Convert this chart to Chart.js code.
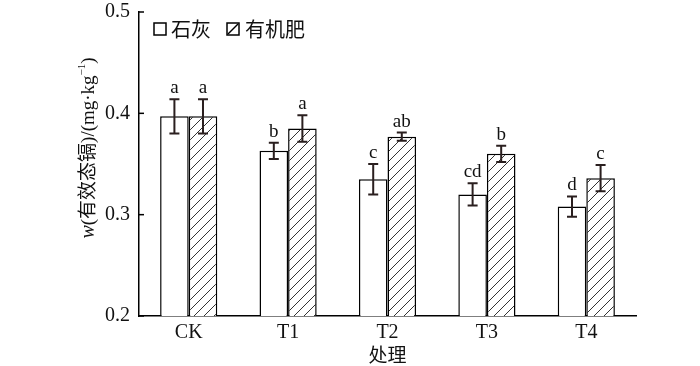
<!DOCTYPE html>
<html>
<head>
<meta charset="utf-8">
<script src="https://cdn.jsdelivr.net/npm/chart.js@4.4.1/dist/chart.umd.min.js"></script>
<style>
  html, body { margin: 0; padding: 0; background: #fff; }
  #wrap { width: 700px; height: 366px; }
</style>
</head>
<body>
<div id="wrap"><canvas id="cdChart" width="700" height="366"></canvas></div>
<script>
// 数据
const categories = ['CK', 'T1', 'T2', 'T3', 'T4'];
const limeValues = [0.397, 0.363, 0.335, 0.320, 0.308];
const limeErrors = [0.017, 0.008, 0.015, 0.011, 0.010];
const limeLetters = ['a', 'b', 'c', 'cd', 'd'];
const manureValues = [0.397, 0.385, 0.377, 0.360, 0.336];
const manureErrors = [0.017, 0.013, 0.004, 0.008, 0.013];
const manureLetters = ['a', 'a', 'ab', 'b', 'c'];
const seriesNames = ['石灰', '有机肥'];
const yTicks = [0.2, 0.3, 0.4, 0.5];

const SERIF = '"Liberation Serif", "Noto Sans CJK SC", serif';
const CJK = '"Noto Sans CJK SC", "Liberation Serif", sans-serif';

// 斜线填充
function makeHatch() {
    const c = document.createElement('canvas');
    c.width = 10; c.height = 10;
    const g = c.getContext('2d');
    g.fillStyle = '#fff';
    g.fillRect(0, 0, 10, 10);
    g.strokeStyle = '#333';
    g.lineWidth = 1;
    g.beginPath();
    g.moveTo(-1, 11); g.lineTo(11, -1);
    g.moveTo(-1, 1); g.lineTo(1, -1);
    g.moveTo(9, 11); g.lineTo(11, 9);
    g.stroke();
    return g.createPattern(c, 'repeat');
}

const errors = [limeErrors, manureErrors];
const letters = [limeLetters, manureLetters];

const extrasPlugin = {
    id: 'extras',
    afterDatasetsDraw(chart) {
        const ctx = chart.ctx;
        const yScale = chart.scales.y;
        const area = chart.chartArea;
        ctx.save();

        // 误差线和字母
        chart.data.datasets.forEach((ds, i) => {
            const meta = chart.getDatasetMeta(i);
            meta.data.forEach((bar, j) => {
                const v = ds.data[j];
                const e = errors[i][j];
                const yt = yScale.getPixelForValue(v + e);
                const yb = yScale.getPixelForValue(v - e);
                ctx.strokeStyle = '#2a1f1f';
                ctx.lineWidth = 2;
                ctx.beginPath();
                ctx.moveTo(bar.x, yt); ctx.lineTo(bar.x, yb);
                ctx.moveTo(bar.x - 5, yt); ctx.lineTo(bar.x + 5, yt);
                ctx.moveTo(bar.x - 5, yb); ctx.lineTo(bar.x + 5, yb);
                ctx.stroke();

                ctx.fillStyle = '#111';
                ctx.font = '19px ' + SERIF;
                ctx.textAlign = 'center';
                ctx.textBaseline = 'alphabetic';
                ctx.fillText(letters[i][j], bar.x, yt - 6);
            });
        });

        // y轴向内刻度
        ctx.strokeStyle = '#000';
        ctx.lineWidth = 1.5;
        yTicks.forEach(t => {
            const y = yScale.getPixelForValue(t);
            ctx.beginPath();
            ctx.moveTo(area.left, y); ctx.lineTo(area.left + 5, y);
            ctx.stroke();
        });

        // 图例
        ctx.lineWidth = 1.5;
        ctx.strokeStyle = '#000';
        ctx.fillStyle = '#fff';
        ctx.fillRect(154, 23, 12, 12);
        ctx.strokeRect(154, 23, 12, 12);
        ctx.strokeRect(227, 23, 12, 12);
        ctx.beginPath();
        ctx.moveTo(228, 34); ctx.lineTo(238, 24);
        ctx.stroke();
        ctx.fillStyle = '#111';
        ctx.font = '20px ' + CJK;
        ctx.textAlign = 'left';
        ctx.textBaseline = 'middle';
        ctx.fillText(seriesNames[0], 171, 29);
        ctx.fillText(seriesNames[1], 245, 29);

        // y轴标题
        ctx.translate(89, 148);
        ctx.rotate(-Math.PI / 2);
        const parts = [
            { t: 'w', f: 'italic 20px ' + SERIF, dy: 0 },
            { t: '(有效态镉)/(mg·kg', f: '19px ' + SERIF, dy: 0 },
            { t: '−1', f: '11px ' + SERIF, dy: -7 },
            { t: ')', f: '19px ' + SERIF, dy: 0 }
        ];
        let total = 0;
        parts.forEach(p => { ctx.font = p.f; p.w = ctx.measureText(p.t).width; total += p.w; });
        let x = -total / 2;
        ctx.textAlign = 'left';
        ctx.textBaseline = 'middle';
        parts.forEach(p => {
            ctx.font = p.f;
            ctx.fillText(p.t, x, p.dy);
            x += p.w;
        });
        ctx.restore();
    }
};

const hatch = makeHatch();

new Chart(document.getElementById('cdChart').getContext('2d'), {
    type: 'bar',
    data: {
        labels: categories,
        datasets: [{
            label: seriesNames[0],
            data: limeValues,
            backgroundColor: '#fff',
            borderColor: '#000',
            borderWidth: 1.5,
            borderSkipped: 'bottom',
            categoryPercentage: 0.575,
            barPercentage: 1.0
        }, {
            label: seriesNames[1],
            data: manureValues,
            backgroundColor: hatch,
            borderColor: '#000',
            borderWidth: 1.5,
            borderSkipped: 'bottom',
            categoryPercentage: 0.575,
            barPercentage: 1.0
        }]
    },
    options: {
        responsive: false,
        animation: false,
        layout: { autoPadding: false, padding: { top: 12, right: 64, left: 0, bottom: 0 } },
        plugins: {
            legend: { display: false },
            tooltip: { enabled: false }
        },
        scales: {
            x: {
                grid: { display: false, drawTicks: false },
                border: { display: true, color: '#000', width: 1.5 },
                ticks: { color: '#111', font: { family: SERIF, size: 20 }, padding: 5 },
                title: { display: true, text: '处理', color: '#111', font: { family: CJK, size: 19 }, padding: 0 },
                afterFit: s => {
                    s.height = 50;
                    s.paddingLeft = 0; s.paddingRight = 0;
                }
            },
            y: {
                min: 0.2,
                max: 0.5,
                grid: { display: false, drawTicks: false },
                border: { display: true, color: '#000', width: 1.5 },
                ticks: {
                    stepSize: 0.1,
                    color: '#111',
                    font: { family: SERIF, size: 20 },
                    padding: 9,
                    callback: v => v.toFixed(1)
                },
                afterFit: s => {
                    s.width = 139;
                    s.paddingTop = 0; s.paddingBottom = 0;
                }
            }
        }
    },
    plugins: [extrasPlugin]
});
</script>
</body>
</html>
